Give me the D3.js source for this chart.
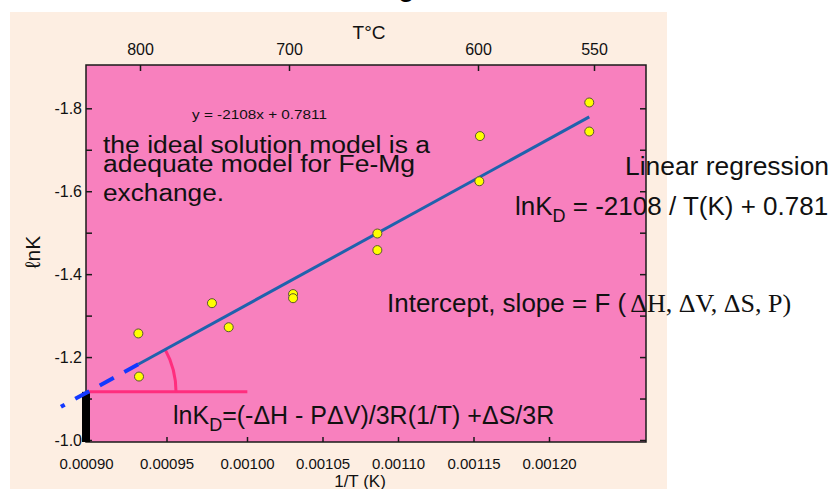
<!DOCTYPE html>
<html>
<head>
<meta charset="utf-8">
<script src="https://cdn.jsdelivr.net/npm/d3@7"></script>
<style>
  html, body { margin: 0; padding: 0; background: #ffffff; }
  svg { display: block; font-family: "Liberation Sans", Arial, Helvetica, sans-serif; }
</style>
</head>
<body>
<svg id="chart" width="836" height="489"></svg>
<script>
// Fe-Mg exchange: ln K against reciprocal temperature, with a linear fit

// measurements: 1/T (K^-1) and ln K
const invT = [0.0009316, 0.0009320, 0.0009778, 0.0009883, 0.0010287, 0.0010287,
              0.0010816, 0.0010816, 0.0011456, 0.0011460, 0.0012146, 0.0012146];
const lnK  = [-1.257, -1.153, -1.330, -1.272, -1.352, -1.342,
              -1.498, -1.458, -1.624, -1.733, -1.744, -1.814];

// least-squares line  lnK = slope * (1/T) + intercept
const fitSlope = -2108;
const fitIntercept = 0.7811;
const fitSpan = [0.0009316, 0.0012146];   // solid part, over the measured range
const fitExtrapolateTo = 0.000883;        // dashed extension towards high T
const interceptRef = [0.00090, 0.00100];  // horizontal reference at the axis

// axis ticks
const bottomTicks = [0.00090, 0.00095, 0.00100, 0.00105, 0.00110, 0.00115, 0.00120];
const topTicksC = [800, 700, 600, 550];
const yTicks = [-1.0, -1.1, -1.2, -1.3, -1.4, -1.5, -1.6, -1.7, -1.8];

// layout
const plot = { left: 86, right: 646, top: 65, bottom: 442 };
const x = d3.scaleLinear().domain([0.0009, 0.0012]).range([88, 566]);
const y = d3.scaleLinear().domain([-1.0, -1.8]).range([440, 108.3]);
// printed positions of the 1/T and T°C tick marks on the frame
const xAxisScale = d3.scaleLinear().domain([0.0009, 0.0010, 0.0012]).range([86, 247, 549]);
const topScale = d3.scaleLinear().domain([800, 700, 600, 550]).range([140, 289, 478, 594]);

const fit = v => fitSlope * v + fitIntercept;

const svg = d3.select("#chart");

// page background and a clipped heading fragment above it
svg.append("rect")
  .attr("x", 10).attr("y", 12).attr("width", 657).attr("height", 477)
  .attr("fill", "#fdeee2");
svg.append("text")
  .attr("x", 398).attr("y", -4).attr("font-size", 30).attr("fill", "#000")
  .text("g");

// plot frame
svg.append("rect")
  .attr("x", plot.left).attr("y", plot.top)
  .attr("width", plot.right - plot.left).attr("height", plot.bottom - plot.top)
  .attr("fill", "#f880be").attr("stroke", "#1a1a1a").attr("stroke-width", 1.5);

// axes (ticks point inwards)
function styleAxis(g, size) {
  g.attr("font-family", null).attr("font-size", size);
  g.select(".domain").remove();
  g.selectAll(".tick line").attr("stroke", "#1a1a1a").attr("stroke-width", 1.5);
  g.selectAll(".tick text").attr("fill", "#111");
}

svg.append("g")
  .attr("transform", `translate(0,${plot.bottom})`)
  .call(d3.axisBottom(xAxisScale).tickValues(bottomTicks)
    .tickSize(-5).tickPadding(16).tickFormat(d => d.toFixed(5)))
  .call(g => styleAxis(g, 15));

svg.append("g")
  .attr("transform", `translate(0,${plot.top})`)
  .call(d3.axisTop(topScale).tickValues(topTicksC)
    .tickSize(-6).tickPadding(10).tickFormat(d => String(d)))
  .call(g => styleAxis(g, 16));

const isMajor = d => Math.abs(Math.round(d * 10)) % 2 === 0;
svg.append("g")
  .attr("transform", `translate(${plot.left},0)`)
  .call(d3.axisLeft(y).tickValues(yTicks)
    .tickSize(-6).tickPadding(4).tickFormat(d => isMajor(d) ? d.toFixed(1) : ""))
  .call(g => styleAxis(g, 16));

svg.append("g")
  .attr("transform", `translate(${plot.right},0)`)
  .call(d3.axisRight(y).tickValues(yTicks).tickSize(-6).tickFormat(""))
  .call(g => styleAxis(g, 16));

// axis titles
svg.append("text")
  .attr("x", 369).attr("y", 39).attr("text-anchor", "middle")
  .attr("font-size", 19).attr("fill", "#111").text("T°C");
svg.append("text")
  .attr("x", 360).attr("y", 487).attr("text-anchor", "middle")
  .attr("font-size", 17).attr("fill", "#111").text("1/T (K)");
svg.append("text")
  .attr("transform", "translate(40,252) rotate(-90)").attr("text-anchor", "middle")
  .attr("font-size", 21).attr("fill", "#111").text("ℓnK");

// intercept marker on the y axis, from the frame bottom up to the fit at the axis
const x0 = interceptRef[0];
const yAtAxis = y(fit(x0));
svg.append("rect")
  .attr("x", x(x0) - 6).attr("y", yAtAxis)
  .attr("width", 8).attr("height", plot.bottom - yAtAxis)
  .attr("fill", "#000");

// horizontal reference and the slope-angle arc
svg.append("line")
  .attr("x1", x(interceptRef[0])).attr("x2", x(interceptRef[1]))
  .attr("y1", yAtAxis).attr("y2", yAtAxis)
  .attr("stroke", "#ff2e7e").attr("stroke-width", 3);

const angle = Math.atan2(y(fit(fitSpan[1])) - y(fit(x0)), x(fitSpan[1]) - x(x0));
const arcPath = d3.path();
const arcR = 88;
arcPath.moveTo(x(x0) + arcR * Math.cos(angle), yAtAxis + arcR * Math.sin(angle));
arcPath.arc(x(x0), yAtAxis, arcR, angle, 0, false);
svg.append("path")
  .attr("d", arcPath.toString())
  .attr("fill", "none").attr("stroke", "#ff2e7e").attr("stroke-width", 3);

// regression line: dashed extrapolation and solid fitted range
const fitLine = d3.line().x(d => x(d)).y(d => y(fit(d)));
svg.append("path")
  .attr("d", fitLine([fitSpan[0], fitExtrapolateTo]))
  .attr("fill", "none").attr("stroke", "#1238ff").attr("stroke-width", 4)
  .attr("stroke-dasharray", "16,12");
svg.append("path")
  .attr("d", fitLine(fitSpan))
  .attr("fill", "none").attr("stroke", "#1f62ad").attr("stroke-width", 3);

// measured points
svg.append("g").selectAll("circle")
  .data(invT.map((v, i) => [v, lnK[i]]))
  .join("circle")
  .attr("cx", d => x(d[0])).attr("cy", d => y(d[1])).attr("r", 4.5)
  .attr("fill", "#ffff00").attr("stroke", "#5a5530").attr("stroke-width", 1);

// annotations
svg.append("text")
  .attr("x", 192).attr("y", 119.3).attr("font-size", 13.5).attr("fill", "#111")
  .attr("textLength", 135).attr("lengthAdjust", "spacingAndGlyphs")
  .text(`y = ${fitSlope}x + ${fitIntercept}`);

const note = [
  ["the ideal solution model is a", 153, 327],
  ["adequate model for Fe-Mg", 172, 312],
  ["exchange.", 201, 121]
];
svg.append("g").selectAll("text")
  .data(note)
  .join("text")
  .attr("x", 103).attr("y", d => d[1]).attr("font-size", 23).attr("fill", "#111")
  .attr("textLength", d => d[2]).attr("lengthAdjust", "spacingAndGlyphs")
  .text(d => d[0]);

svg.append("text")
  .attr("x", 625).attr("y", 175).attr("font-size", 25.5).attr("fill", "#111")
  .attr("textLength", 204).attr("lengthAdjust", "spacingAndGlyphs")
  .text("Linear regression");

const eq = svg.append("text")
  .attr("x", 515).attr("y", 215).attr("font-size", 26).attr("fill", "#111");
eq.append("tspan").text("lnK");
eq.append("tspan").attr("font-size", 18).attr("dy", 6.7).text("D");
eq.append("tspan").attr("dy", -6.7)
  .text(` = ${fitSlope} / T(K) + ${fitIntercept.toFixed(3)}`);

const dep = svg.append("text")
  .attr("x", 387).attr("y", 311.7).attr("font-size", 26).attr("fill", "#111");
dep.append("tspan").text("Intercept, slope = F (");
dep.append("tspan").attr("dx", 4)
  .attr("font-family", "'Liberation Serif', 'Times New Roman', serif")
  .text("ΔH, ΔV, ΔS, P)");

const rel = svg.append("text")
  .attr("x", 173).attr("y", 424).attr("font-size", 25).attr("fill", "#111");
rel.append("tspan").text("lnK");
rel.append("tspan").attr("font-size", 18).attr("dy", 6.7).text("D");
rel.append("tspan").attr("dy", -6.7).text("=(-ΔH - PΔV)/3R(1/T) +ΔS/3R");
</script>
</body>
</html>
